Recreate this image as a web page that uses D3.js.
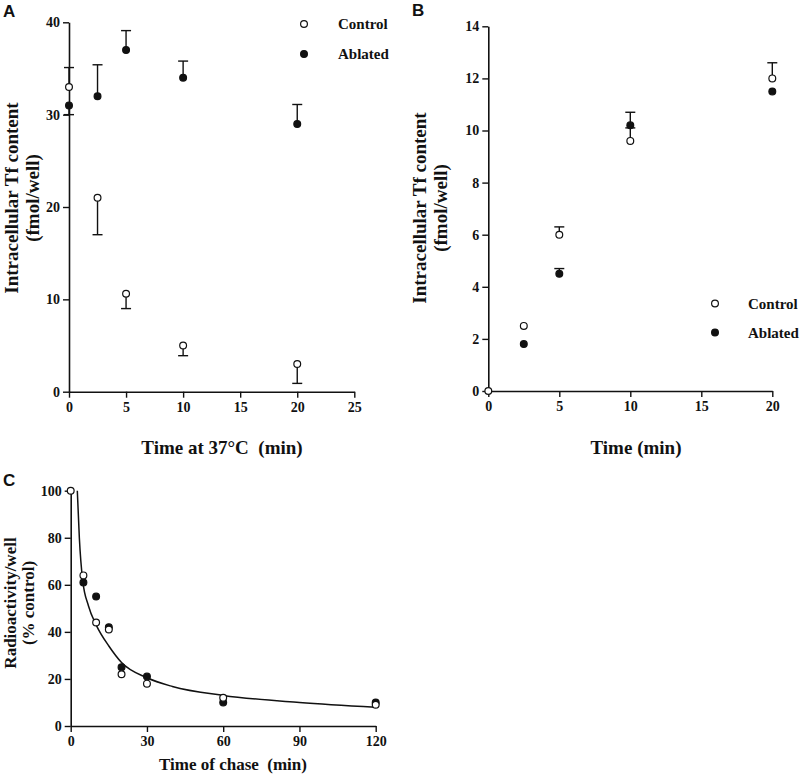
<!DOCTYPE html>
<html>
<head>
<meta charset="utf-8">
<script src="https://cdn.jsdelivr.net/npm/d3@7"></script>
<style>
  html, body { margin: 0; padding: 0; background: #fff; }
  svg { display: block; }
  text { font-family: "Liberation Serif", "Times New Roman", serif; font-weight: bold; fill: #111; white-space: pre; }
  .panel-letter { font-family: "Liberation Sans", Arial, sans-serif; font-size: 17px; }
</style>
</head>
<body>
<svg id="chart" width="800" height="781"></svg>
<script>
// ---------- DATA ----------
// Panel A
const aTimes = [0, 2.5, 5, 10, 20];
const aControl = [33, 21, 10.6, 5, 3];
const aControlErrEnd = [35.1, 17, 9, 3.9, 0.9];
const aAblated = [31, 32, 37, 34, 29];
const aAblatedErrEnd = [30, 35.4, 39.1, 35.8, 31.1];
const aXTicks = [0, 5, 10, 15, 20, 25];
const aYTicks = [0, 10, 20, 30, 40];

// Panel B
const bTimes = [0, 2.5, 5, 10, 20];
const bControl = [0, 2.5, 6.0, 9.6, 12.0];
const bControlErrEnd = [null, null, 6.3, 10.1, 12.6];
const bAblated = [null, 1.8, 4.5, 10.2, 11.5];
const bAblatedErrEnd = [null, null, 4.7, 10.7, null];
const bXTicks = [0, 5, 10, 15, 20];
const bYTicks = [0, 2, 4, 6, 8, 10, 12, 14];

// Panel C
const cControlTimes = [0, 5, 10, 15, 20, 30, 60, 120];
const cControl = [100, 64, 44, 41, 22, 18, 12, 9];
const cAblatedTimes = [5, 10, 15, 20, 30, 60, 120];
const cAblated = [61, 55, 42, 25, 21, 10, 10];
const cFitTimes = [2.6, 3.4, 4.7, 7, 10, 15, 20, 30, 40, 60, 90, 120];
const cFitValues = [100, 80, 62, 51, 43, 34, 27, 20.5, 16.8, 13, 10, 8];
const cXTicks = [0, 30, 60, 90, 120];
const cYTicks = [0, 20, 40, 60, 80, 100];

const seriesNames = ["Control", "Ablated"];

// ---------- DRAW ----------
const svg = d3.select("#chart");
const INK = "#111";
const R = 3.4;

function drawAxes(g, x, y, xTicks, yTicks) {
  const ax = g.append("g").attr("transform", `translate(0,${y.range()[0]})`)
    .call(d3.axisBottom(x).tickValues(xTicks).tickSize(6).tickSizeOuter(0).tickPadding(4).tickFormat(d3.format("d")));
  const ay = g.append("g").attr("transform", `translate(${x.range()[0]},0)`)
    .call(d3.axisLeft(y).tickValues(yTicks).tickSize(6).tickSizeOuter(0).tickPadding(3).tickFormat(d3.format("d")));
  [ax, ay].forEach(a => {
    a.selectAll("path.domain").attr("stroke", INK).attr("stroke-width", 1.6);
    a.selectAll(".tick line").attr("stroke", INK).attr("stroke-width", 1.4);
    a.selectAll(".tick text").attr("fill", INK).style("font-size", "14px")
      .style("font-family", '"Liberation Serif", serif').style("font-weight", "bold");
  });
}

function drawErr(g, x, y, times, vals, ends) {
  times.forEach((t, i) => {
    const v = vals[i], e = ends[i];
    if (v == null || e == null) return;
    g.append("line").attr("x1", x(t)).attr("x2", x(t)).attr("y1", y(v)).attr("y2", y(e))
      .attr("stroke", INK).attr("stroke-width", 1.4);
    g.append("line").attr("x1", x(t) - 5).attr("x2", x(t) + 5).attr("y1", y(e)).attr("y2", y(e))
      .attr("stroke", INK).attr("stroke-width", 1.4);
  });
}

function drawPoints(g, x, y, times, vals, filled) {
  times.forEach((t, i) => {
    const v = vals[i];
    if (v == null) return;
    g.append("circle").attr("cx", x(t)).attr("cy", y(v)).attr("r", R)
      .attr("fill", filled ? INK : "#fff").attr("stroke", INK).attr("stroke-width", 1.2);
  });
}

function drawLegend(g, lx, ly, gap, tx, size) {
  seriesNames.forEach((name, i) => {
    g.append("circle").attr("cx", lx).attr("cy", ly + i * gap).attr("r", R)
      .attr("fill", i === 0 ? "#fff" : INK).attr("stroke", INK).attr("stroke-width", 1.2);
    g.append("text").attr("x", tx).attr("y", ly + i * gap + 5).style("font-size", size + "px").text(name);
  });
}

function yLabel(g, lines, cy, xs, size) {
  lines.forEach((l, i) => {
    g.append("text").attr("transform", `translate(${xs[i]},${cy}) rotate(-90)`)
      .attr("text-anchor", "middle").style("font-size", size + "px").text(l);
  });
}

// Panel A
{
  const g = svg.append("g");
  const x = d3.scaleLinear().domain([0, 25]).range([69, 354.3]);
  const y = d3.scaleLinear().domain([0, 40]).range([391.7, 22.3]);
  drawAxes(g, x, y, aXTicks, aYTicks);
  drawErr(g, x, y, aTimes, aControl, aControlErrEnd);
  drawErr(g, x, y, aTimes, aAblated, aAblatedErrEnd);
  drawPoints(g, x, y, aTimes, aAblated, true);
  drawPoints(g, x, y, aTimes, aControl, false);
  drawLegend(g, 304, 24, 30, 338, 15);
  yLabel(g, ["Intracellular Tf content", "(fmol/well)"], 198, [18, 38.5], 19);
  g.append("text").attr("x", 222).attr("y", 454).attr("text-anchor", "middle")
    .style("font-size", "19px").text("Time at 37°C  (min)");
  g.append("text").attr("class", "panel-letter").attr("x", 3).attr("y", 17).text("A");
}

// Panel B
{
  const g = svg.append("g");
  const x = d3.scaleLinear().domain([0, 20]).range([488.3, 772.3]);
  const y = d3.scaleLinear().domain([0, 14]).range([391, 26.3]);
  drawAxes(g, x, y, bXTicks, bYTicks);
  drawErr(g, x, y, bTimes, bControl, bControlErrEnd);
  drawErr(g, x, y, bTimes, bAblated, bAblatedErrEnd);
  drawPoints(g, x, y, bTimes, bControl, false);
  drawPoints(g, x, y, bTimes, bAblated, true);
  drawLegend(g, 715, 303.5, 29, 748, 15);
  yLabel(g, ["Intracellular Tf content", "(fmol/well)"], 208, [425.5, 446.5], 19);
  g.append("text").attr("x", 636).attr("y", 454).attr("text-anchor", "middle")
    .style("font-size", "19px").text("Time (min)");
  g.append("text").attr("class", "panel-letter").attr("x", 412).attr("y", 16).text("B");
}

// Panel C
{
  const g = svg.append("g");
  const x = d3.scaleLinear().domain([0, 120]).range([70.7, 375.7]);
  const y = d3.scaleLinear().domain([0, 100]).range([726, 490.7]);
  drawAxes(g, x, y, cXTicks, cYTicks);
  const fit = cFitTimes.map((t, i) => [t, cFitValues[i]]);
  g.append("path").datum(fit)
    .attr("d", d3.line().x(d => x(d[0])).y(d => y(d[1])).curve(d3.curveMonotoneX))
    .attr("fill", "none").attr("stroke", INK).attr("stroke-width", 1.5);
  drawPoints(g, x, y, cAblatedTimes, cAblated, true);
  drawPoints(g, x, y, cControlTimes, cControl, false);
  yLabel(g, ["Radioactivity/well", "(% control)"], 603, [15.5, 34], 17);
  g.append("text").attr("x", 233).attr("y", 770).attr("text-anchor", "middle")
    .style("font-size", "17px").text("Time of chase  (min)");
  g.append("text").attr("class", "panel-letter").attr("x", 3).attr("y", 486).text("C");
}
</script>
</body>
</html>
